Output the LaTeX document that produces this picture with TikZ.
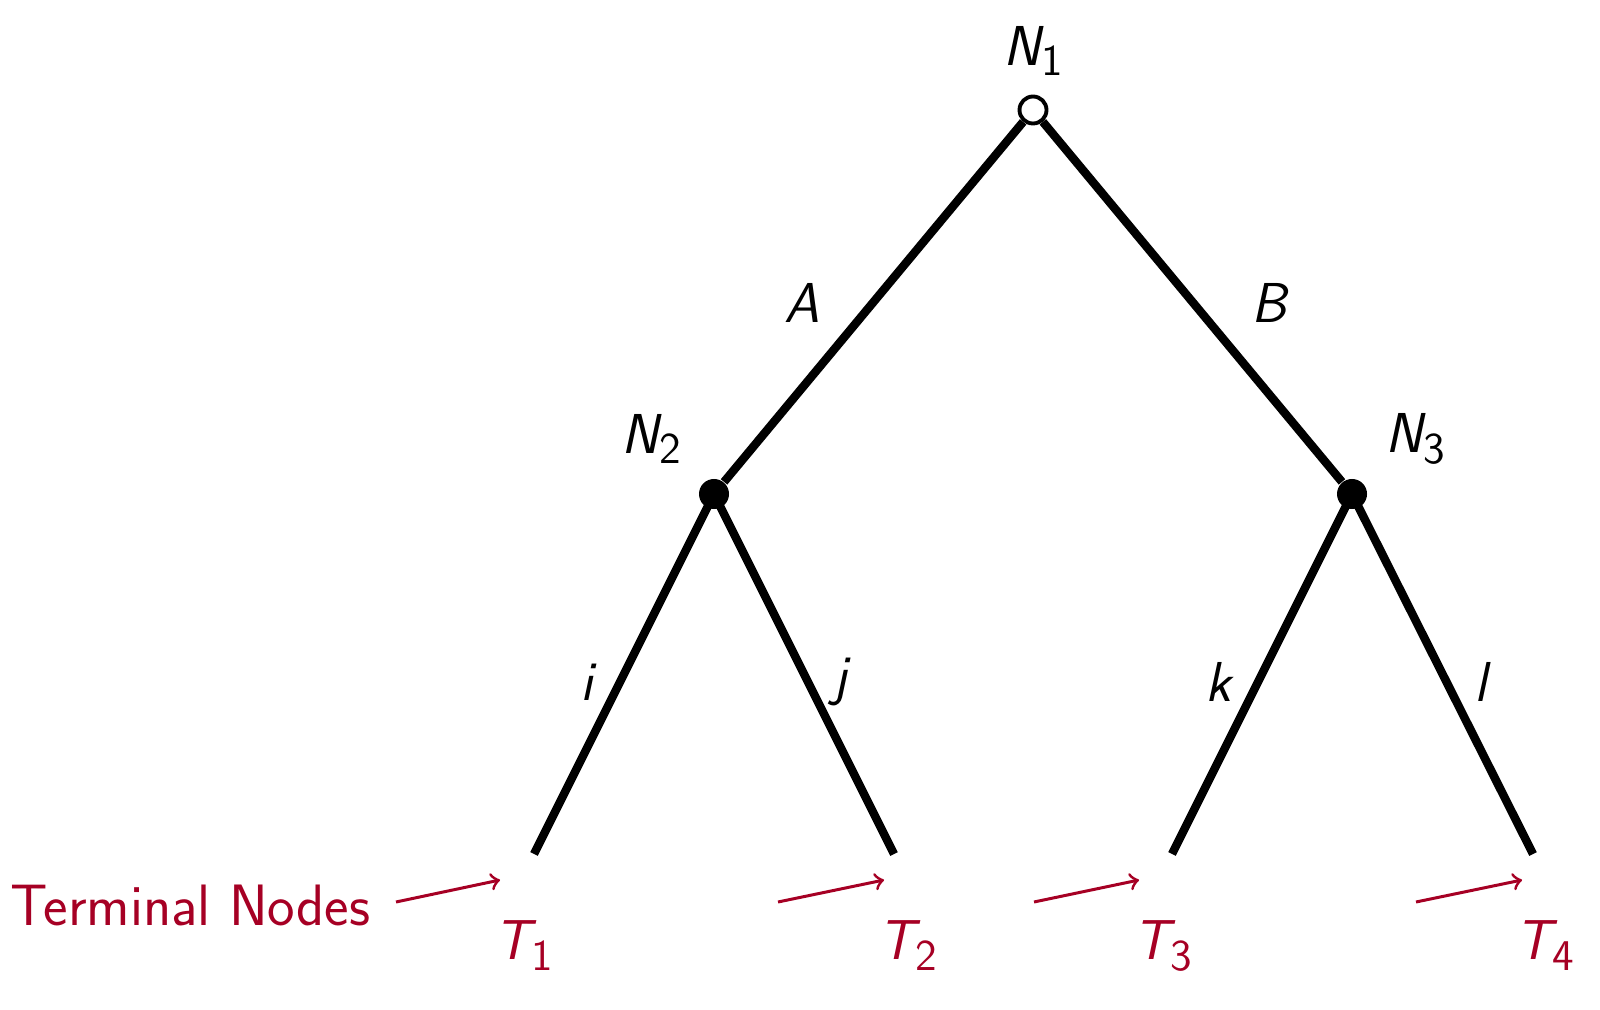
\documentclass[tikz,border=0pt]{standalone}
\usepackage{fontspec}
\begin{document}
\begin{tikzpicture}[x=0.01cm,y=-0.01cm,
  edge/.style={line width=2.4pt},
  opendot/.style={circle,draw,fill=white,line width=1.1pt,minimum size=0.27cm,inner sep=0pt},
  fulldot/.style={circle,fill=black,minimum size=0.3cm,inner sep=0pt},
  lbl/.style={font=\fontsize{16}{19}\selectfont\sffamily},
  tlbl/.style={lbl,text=termred},
  tarrow/.style={termred,line width=0.85pt,->}]
\definecolor{termred}{RGB}{166,0,36}
\useasboundingbox (0,0) rectangle (1600,1010);
\newcommand{\mvar}[2]{{\itshape #1}\kern0.02em\raisebox{-0.45ex}{\fontsize{12.5}{15}\selectfont\upshape #2}}
% nodes
\node[opendot] (n1) at (1033,110) {};
\node[fulldot] (n2) at (714,494) {};
\node[fulldot] (n3) at (1352,494) {};
\coordinate (t1) at (534,854);
\coordinate (t2) at (894,854);
\coordinate (t3) at (1172,854);
\coordinate (t4) at (1533,854);
% edges
\draw[edge] (n1) -- (n2);
\draw[edge] (n1) -- (n3);
\draw[edge] (n2.center) -- (t1);
\draw[edge] (n2.center) -- (t2);
\draw[edge] (n3.center) -- (t3);
\draw[edge] (n3.center) -- (t4);
% labels
\node[lbl] (ln1) at (1033,51) {\mvar{N}{1}};
\node[lbl] (ln2) at (651,439) {\mvar{N}{2}};
\node[lbl] (ln3) at (1415,439) {\mvar{N}{3}};
\node[lbl] (la) at (802,303) {\itshape A};
\node[lbl] (lb) at (1269,303) {\itshape B};
\node[lbl] (li) at (587,682) {\itshape i};
\node[lbl] (lj) at (840,682) {\itshape j};
\node[lbl] (lk) at (1218,682) {\itshape k};
\node[lbl] (ll) at (1481,682) {\itshape l};
\node[tlbl] (lt1) at (524,946) {\mvar{T}{1}};
\node[tlbl] (lt2) at (908,946) {\mvar{T}{2}};
\node[tlbl] (lt3) at (1163,946) {\mvar{T}{3}};
\node[tlbl] (lt4) at (1545,946) {\mvar{T}{4}};
\node[tlbl,anchor=west,inner sep=0pt,font=\fontsize{16.6}{20}\selectfont\sffamily] (term) at (10,905) {Terminal Nodes};
% arrows
\coordinate (a1s) at (396,902); \coordinate (a1e) at (500,880);
\coordinate (a2s) at (778,902); \coordinate (a2e) at (884,880);
\coordinate (a3s) at (1034,902); \coordinate (a3e) at (1139,880);
\coordinate (a4s) at (1416,902); \coordinate (a4e) at (1522,880);
\draw[tarrow] (a1s) -- (a1e);
\draw[tarrow] (a2s) -- (a2e);
\draw[tarrow] (a3s) -- (a3e);
\draw[tarrow] (a4s) -- (a4e);
\end{tikzpicture}
\end{document}
